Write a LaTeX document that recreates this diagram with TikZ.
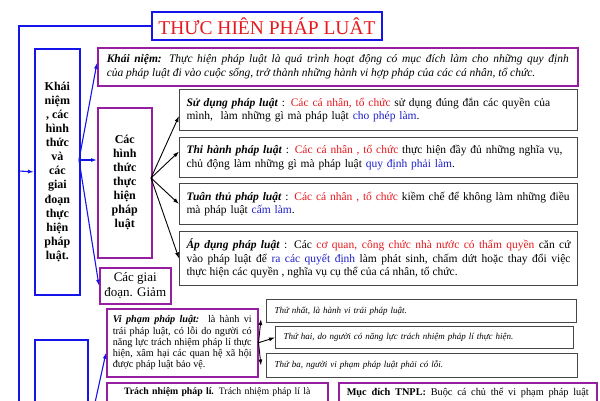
\documentclass[tikz,border=0pt]{standalone}
\usepackage{fontspec}
\setmainfont{Liberation Serif}
\usetikzlibrary{arrows.meta}
\definecolor{lineblue}{RGB}{20,20,235}
\definecolor{boxpurple}{RGB}{150,30,160}
\definecolor{txtred}{RGB}{230,25,30}
\definecolor{txtblue}{RGB}{30,30,200}
\definecolor{boxgray}{RGB}{70,70,70}
\tikzset{%
  >={Latex[width=4pt,length=6pt]},
  % Specifications for style of nodes:
         base/.style = {rectangle, draw, anchor=north west, inner sep=0pt,
                        font=\fontsize{11.5}{13.5}\selectfont},
     titlebox/.style = {base, anchor=center, draw=lineblue, line width=2.6pt,
                        text=txtred, font=\fontsize{19.5}{22}\selectfont},
       keybox/.style = {base, draw=lineblue, line width=1.8pt, align=center,
                        font=\bfseries\fontsize{12}{14.1}\selectfont},
    purplebox/.style = {base, draw=boxpurple, line width=1.5pt},
      formbox/.style = {base, draw=boxgray, line width=1pt, inner xsep=7pt,
                        text width=384pt, align=left},
      condbox/.style = {base, draw=boxgray, line width=1pt, inner xsep=8pt,
                        align=left, font=\itshape\fontsize{9}{11}\selectfont},
  % Specifications for style of connectors:
     blueline/.style = {draw=lineblue, line width=1.8pt},
    bluearrow/.style = {->, draw=lineblue, line width=1.1pt, lineblue},
   blackarrow/.style = {->, draw=black, line width=0.9pt},
}
\begin{document}
\begin{tikzpicture}[x=1pt, y=-1pt]
  \useasboundingbox (0,0) rectangle (600,400);
  \clip (0,0) rectangle (600,400);

  % Specification of nodes (position, etc.)
  \node (title)    [titlebox, minimum width=230pt, minimum height=28pt] at (267,26) {THƯC HIÊN PHÁP LUÂT};
  \node (key)      [keybox, minimum width=45pt, minimum height=246pt] at (34,48)
    {Khái\\niệm\\, các\\hình\\thức\\và\\các\\giai\\đoạn\\thực\\hiện\\pháp\\luật.};
  \node (lowkey)   [keybox, minimum width=53pt, minimum height=90pt] at (34,339) {};

  \node (concept)  [purplebox, minimum width=480pt, minimum height=38pt, inner xsep=9pt,
                    text width=462pt, align=justify, font=\itshape\fontsize{11.5}{14}\selectfont] at (97,47)
    {\textbf{Khái niệm:} Thực hiện pháp luật là quá trình hoạt động có mục đích làm cho những quy định\linebreak
     của pháp luật đi vào cuộc sống, trở thành những hành vi hợp pháp của các cá nhân, tổ chức.};
  \node (forms)    [purplebox, minimum width=54pt, minimum height=150pt, align=center,
                    font=\bfseries\fontsize{12}{14}\selectfont] at (97,107)
    {Các\\hình\\thức\\thực\\hiện\\pháp\\luật};
  \node (stages)   [purplebox, minimum width=71pt, minimum height=36pt, align=center,
                    font=\fontsize{13}{15}\selectfont] at (99,267) {Các giai\\đoạn. Giảm};

  \node (use)      [formbox, minimum height=41pt] at (179,89)
    {\textbf{\textit{Sử dụng pháp luật}} : \textcolor{txtred}{Các cá nhân, tổ chức} sử dụng đúng đắn các quyền của\\
     mình,\ \ làm những gì mà pháp luật \textcolor{txtblue}{cho phép làm}.};
  \node (enforce)  [formbox, minimum height=40pt] at (179,137)
    {\textbf{\textit{Thi hành pháp luật}} : \textcolor{txtred}{Các cá nhân , tổ chức} thực hiện đầy đủ những nghĩa vụ,\\
     chủ động làm những gì mà pháp luật \textcolor{txtblue}{quy định phải làm}.};
  \node (obey)     [formbox, minimum height=41pt] at (179,183)
    {\textbf{\textit{Tuân thủ pháp luật}} : \textcolor{txtred}{Các cá nhân , tổ chức} kiềm chế để không làm những điều\\
     mà pháp luật \textcolor{txtblue}{cấm làm}.};
  \node (apply)    [formbox, minimum height=54pt, align=justify] at (179,231)
    {\textbf{\textit{Áp dụng pháp luật}} : Các \textcolor{txtred}{cơ quan, công chức nhà nước có thẩm quyền} căn cứ\linebreak
     vào pháp luật để \textcolor{txtblue}{ra các quyết định} làm phát sinh, chấm dứt hoặc thay đổi việc\linebreak
     thực hiện các quyền , nghĩa vụ cụ thể của cá nhân, tổ chức.};

  \node (viol)     [purplebox, minimum width=151pt, minimum height=68pt, inner xsep=6pt,
                    text width=139pt, align=justify, font=\fontsize{10.2}{11.2}\selectfont] at (106,308)
    {\textbf{\textit{Vi phạm pháp luật:}}\ \ là hành vi\linebreak trái pháp luật, có lỗi do người có\linebreak
     năng lực trách nhiệm pháp lí thực\linebreak hiện, xâm hại các quan hệ xã hội\linebreak được pháp luật bảo vệ.};
  \node (cond1)    [condbox, minimum width=310pt, text width=294pt, minimum height=23pt] at (266,299)
    {Thứ nhất, là hành vi trái pháp luật.};
  \node (cond2)    [condbox, minimum width=298pt, text width=282pt, minimum height=22pt] at (275,326)
    {Thứ hai, do người có năng lực trách nhiệm pháp lí thực hiện.};
  \node (cond3)    [condbox, minimum width=311pt, text width=295pt, minimum height=24pt] at (266,353)
    {Thứ ba, người vi phạm pháp luật phải có lỗi.};

  \node (liab)     [purplebox, text width=221pt, align=center, inner ysep=5pt, text depth=30pt,
                    font=\fontsize{9.8}{12}\selectfont] at (106,382)
    {\textbf{Trách nhiệm pháp lí.} Trách nhiệm pháp lí là};
  \node (aim)      [purplebox, minimum width=258pt, inner xsep=8pt, inner ysep=5pt, text depth=30pt,
                    font=\fontsize{10.3}{12}\selectfont] at (338,382)
    {\hbox to 242pt{\textbf{Mục đích TNPL:} Buộc cá chủ thể vi phạm pháp luật}};

  % Free ends of the connectors
  \coordinate (trunkEnd) at (19,420);
  \coordinate (trunkA)   at (19,171);
  \coordinate (keyfork)  at (79,160);
  \coordinate (formfork) at (151,178);
  \coordinate (lowfork)  at (89,430);

  % Specification of lines between nodes specified above
  \draw[blueline]   (title.west) -| (trunkEnd);
  \draw[bluearrow]  (trunkA) -- (key.west);
  \draw[bluearrow]  (keyfork) -- ([yshift=4pt]concept.west);
  \draw[bluearrow]  (keyfork) -- (keyfork -| forms.west);
  \draw[bluearrow]  (keyfork) -- (stages.west);

  \draw[blackarrow] (formfork) -- ([yshift=-6pt]use.west);
  \draw[blackarrow] (formfork) -- ([yshift=6pt]enforce.west);
  \draw[blackarrow] (formfork) -- (obey.west);
  \draw[blackarrow] (formfork) -- (apply.west);

  \draw[blackarrow] (viol.east) -- ([xshift=-5pt,yshift=4pt]cond1.south west);
  \draw[blackarrow] (viol.east) -- (cond2.west);
  \draw[blackarrow] (viol.east) -- ([xshift=-5pt]cond3.west);

  \draw[bluearrow]  (lowfork) -- ([yshift=-10pt]viol.west);
\end{tikzpicture}
\end{document}
